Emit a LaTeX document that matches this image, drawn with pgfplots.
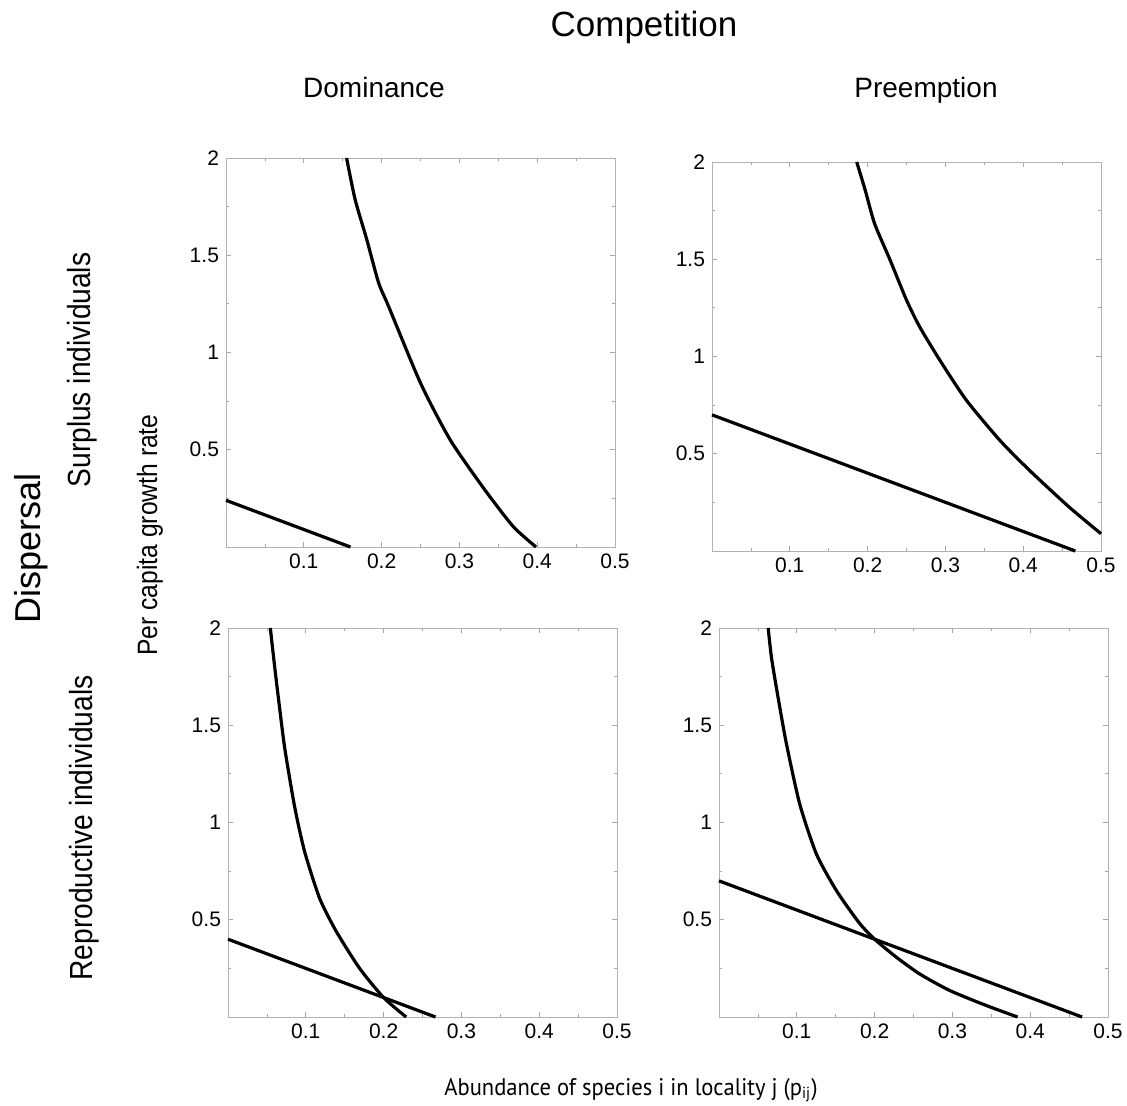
\documentclass[border=0pt]{standalone}
\usepackage{fontspec}
\setmainfont{Liberation Sans}
\newfontfamily\narrowfont[FakeStretch=0.88]{Liberation Sans}
\newfontfamily\xlabfont[FakeStretch=0.94]{PT Sans}
\usepackage{pgfplots}
\pgfplotsset{compat=1.18}
\pgfplotsset{
  panel/.style={
    scale only axis, width=194.5pt, height=194.5pt,
    anchor=south west,
    xmin=0, xmax=0.5, ymin=0, ymax=2,
    xtick={0.1,0.2,0.3,0.4,0.5},
    xticklabels={0.1,0.2,0.3,0.4,0.5},
    minor xtick={0.05,0.15,0.25,0.35,0.45},
    ytick={0.5,1,1.5,2},
    yticklabels={0.5,1,1.5,2},
    minor ytick={0.25,0.75,1.25,1.75},
    tick align=inside,
    major tick length=2.5pt, minor tick length=1.5pt,
    tick style={gray!70, line width=0.4pt},
    axis line style={gray!60, line width=0.5pt},
    ticklabel style={font=\fontsize{10.5}{12}\selectfont},
    /pgf/number format/assume math mode=true,
    clip=false,
  },
  curve/.style={black, line width=1.6pt, line join=round, no marks, smooth, tension=0.4},
}
\begin{document}
\begin{tikzpicture}[x=1pt,y=1pt]
\path[use as bounding box] (0,0) rectangle (563.5,552.5);

% Top-left: Dominance / Surplus individuals
\begin{axis}[panel, at={(113pt,279pt)}]
\addplot[curve] coordinates {(0.155,2.0) (0.166,1.786) (0.181,1.58) (0.196,1.36) (0.209,1.237) (0.25,0.843) (0.288,0.552) (0.331,0.303) (0.369,0.106) (0.3985,0)};
\addplot[curve] coordinates {(0,0.24) (0.16,0)};
\end{axis}

% Top-right: Preemption / Surplus individuals
\begin{axis}[panel, at={(356pt,277pt)}]
\addplot[curve] coordinates {(0.186,2) (0.197,1.854) (0.209,1.683) (0.229,1.495) (0.25,1.29) (0.267,1.152) (0.293,0.98) (0.327,0.775) (0.37,0.569) (0.408,0.415) (0.459,0.226) (0.5,0.089)};
\addplot[curve] coordinates {(0,0.7) (0.467,0)};
\end{axis}

% Bottom-left: Dominance / Reproductive individuals
\begin{axis}[panel, at={(114pt,44pt)}]
\addplot[curve] coordinates {(0.0544,2.0) (0.060,1.80) (0.066,1.60) (0.073,1.38) (0.0857,1.08) (0.0985,0.85) (0.1178,0.61) (0.1392,0.44) (0.1692,0.25) (0.2,0.1) (0.229,0)};
\addplot[curve] coordinates {(0,0.4) (0.2667,0)};
\end{axis}

% Bottom-right: Preemption / Reproductive individuals
\begin{axis}[panel, at={(359.5pt,44pt)}]
\addplot[curve] coordinates {(0.0632,2) (0.0675,1.846) (0.076,1.641) (0.0868,1.402) (0.1038,1.094) (0.1252,0.838) (0.1509,0.65) (0.18,0.485) (0.2,0.4) (0.2278,0.308) (0.2577,0.222) (0.2962,0.137) (0.343,0.06) (0.3838,0)};
\addplot[curve] coordinates {(0,0.7) (0.4667,0)};
\end{axis}

% Titles and labels
\node[anchor=base, font=\fontsize{17.5}{20}\selectfont] at (322,534) {Competition};
\node[anchor=base, font=\fontsize{14}{16}\selectfont] at (187,503.5) {Dominance};
\node[anchor=base, font=\fontsize{14}{16}\selectfont] at (463,503.5) {Preemption};
\node[anchor=base, rotate=90, font=\fontsize{18}{20}\selectfont] at (20,278.5) {Dispersal};
\node[anchor=base, rotate=90, font=\narrowfont\fontsize{16}{18}\selectfont] at (45,367.5) {Surplus individuals};
\node[anchor=base, rotate=90, font=\narrowfont\fontsize{16}{18}\selectfont] at (46,138.5) {Reproductive individuals};
\node[anchor=base, rotate=90, font=\narrowfont\fontsize{14}{16}\selectfont] at (78.5,285) {Per capita growth rate};
\node[anchor=base, font=\xlabfont\fontsize{12}{14}\selectfont] at (315.5,5) {Abundance of species i in locality j (p\textsubscript{ij})};
\end{tikzpicture}
\end{document}
